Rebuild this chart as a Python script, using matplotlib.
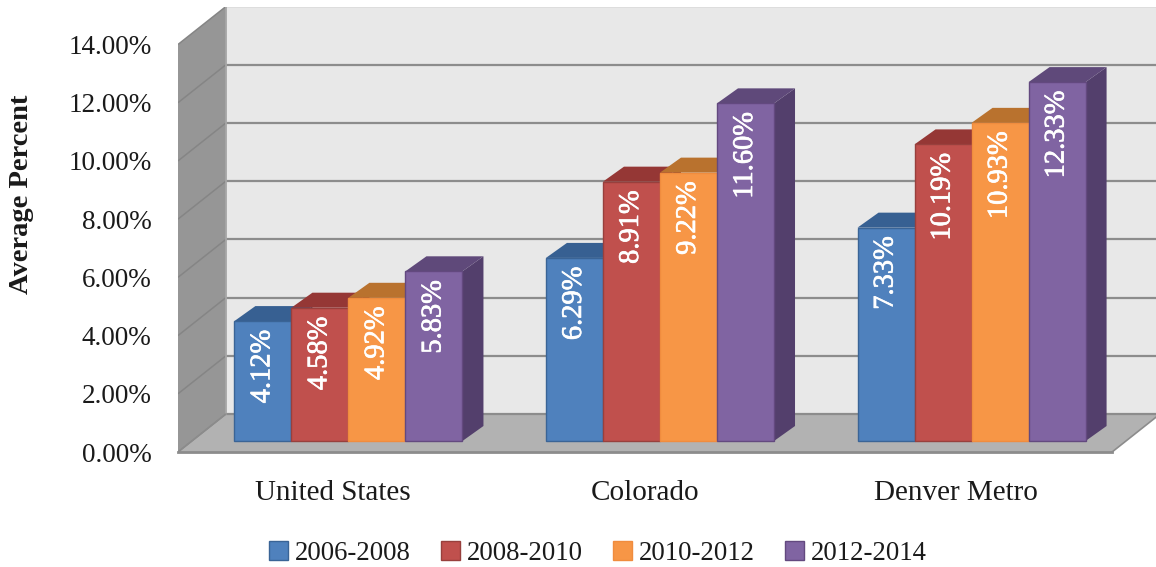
import numpy as np
import matplotlib
matplotlib.use("Agg")
import matplotlib.pyplot as plt
import matplotlib.patheffects as pe
from matplotlib.patches import Patch, Polygon

plt.rcParams["font.family"] = ["Liberation Serif", "DejaVu Serif"]

regions = ["United States", "Colorado", "Denver Metro"]
periods = ["2006-2008", "2008-2010", "2010-2012", "2012-2014"]
us_values = [4.12, 4.58, 4.92, 5.83]
colorado_values = [6.29, 8.91, 9.22, 11.60]
denver_values = [7.33, 10.19, 10.93, 12.33]
y_ticks = [0, 2, 4, 6, 8, 10, 12, 14]

front_colors = ["#4F81BD", "#C0504D", "#F79646", "#8064A2"]
top_colors = ["#376092", "#953735", "#B9722E", "#5F497A"]
side_colors = ["#2F527D", "#7F2F2D", "#A0632A", "#533F6C"]
edge_colors = ["#3A6496", "#98403D", "#F08C3E", "#63497F"]

bar_w = 0.183
# oblique offset of the bar depth and of the whole chart box, in data units
bar_dx, bar_dy = 0.0674, 0.515
box_dx, box_dy = 0.154, 1.306
# the bars stand a bit behind the front edge of the floor
front_y = -0.378
front_x = -0.049
left_x, right_x = -0.547, 2.451

fig = plt.figure(figsize=(11.56, 5.67), dpi=100)
ax = fig.add_axes([178 / 1156, 1 - 452 / 567, 978 / 1156, 445 / 567])
ax.set_xlim(left_x, 2.592)
ax.set_ylim(front_y, 14.91)
for s in ax.spines.values():
    s.set_visible(False)


def poly(points, color, zorder=1, edge="none", lw=0):
    ax.add_patch(Polygon(points, closed=True, facecolor=color, edgecolor=edge,
                         linewidth=lw, zorder=zorder, clip_on=True))


top = 14
back_left = left_x + box_dx
back_right = right_x + box_dx
back_y = front_y + box_dy

# back wall, side wall, floor
poly([(back_left, back_y), (back_right, back_y), (back_right, back_y + top),
      (back_left, back_y + top)], "#E8E8E8", 1)
poly([(left_x, front_y), (back_left, back_y), (back_left, back_y + top),
      (left_x, front_y + top)], "#969696", 1)
poly([(left_x, front_y), (back_left, back_y), (back_right, back_y),
      (right_x, front_y)], "#B2B2B2", 1)

for t in y_ticks:
    ax.plot([left_x, back_left], [front_y + t, back_y + t], color="#858585",
            lw=1.1, zorder=2, solid_capstyle="butt")
    ax.plot([back_left, back_right], [back_y + t, back_y + t], color="#8C8C8C",
            lw=1.6, zorder=2, solid_capstyle="butt")
ax.plot([back_left, back_left], [back_y, back_y + top], color="#A6A6A6", lw=1.3, zorder=2)
ax.plot([left_x, right_x], [front_y, front_y], color="#8C8C8C", lw=2, zorder=3, clip_on=False)
ax.plot([left_x, back_left], [front_y, back_y], color="#8C8C8C", lw=1, zorder=3)
ax.plot([right_x, back_right], [front_y, back_y], color="#8C8C8C", lw=1.2, zorder=3)

# bars
table = np.array([us_values, colorado_values, denver_values])
z = 4
for g in range(len(regions)):
    for i in range(len(periods)):
        v = table[g, i]
        x0 = g + (i - 2) * bar_w
        x1 = x0 + bar_w
        poly([(x1, 0), (x1 + bar_dx, bar_dy), (x1 + bar_dx, v + bar_dy), (x1, v)],
             side_colors[i], z)
        poly([(x0, v), (x0 + bar_dx, v + bar_dy), (x1 + bar_dx, v + bar_dy), (x1, v)],
             top_colors[i], z)
        poly([(x0, 0), (x1, 0), (x1, v), (x0, v)], front_colors[i], z + 1,
             edge=edge_colors[i], lw=1.0)
        txt = ax.text(x0 + bar_w / 2, v - 0.3, f"{v:.2f}%", rotation=90, ha="center", va="top",
                      color="white", fontsize=20.5, zorder=z + 2)
        txt.set_path_effects([pe.withStroke(linewidth=0.5, foreground="white")])
        z += 3

ax.set_yticks([t + front_y for t in y_ticks])
ax.set_yticklabels([f"{t:.2f}%" for t in y_ticks], fontsize=19.5, color="#1a1a1a")
ax.set_xticks([g + front_x for g in range(len(regions))])
ax.set_xticklabels(regions, fontsize=21, color="#1a1a1a")
ax.tick_params(axis="y", length=0, pad=19)
ax.tick_params(axis="x", length=0, pad=20)
ax.set_ylabel("Average Percent", fontsize=20.5, fontweight="bold", color="#1a1a1a")
ax.yaxis.set_label_coords(-0.147, 0.578)

handles = [Patch(facecolor=front_colors[i], edgecolor=edge_colors[i], label=periods[i])
           for i in range(len(periods))]
fig.legend(handles=handles, ncol=4, loc="center", bbox_to_anchor=(598 / 1156, 1 - 553 / 567),
           frameon=False, fontsize=19.3, handlelength=0.71, handleheight=0.71,
           handletextpad=0.26, columnspacing=1.12, labelcolor="#1a1a1a")

fig.savefig("out.png", dpi=100)
